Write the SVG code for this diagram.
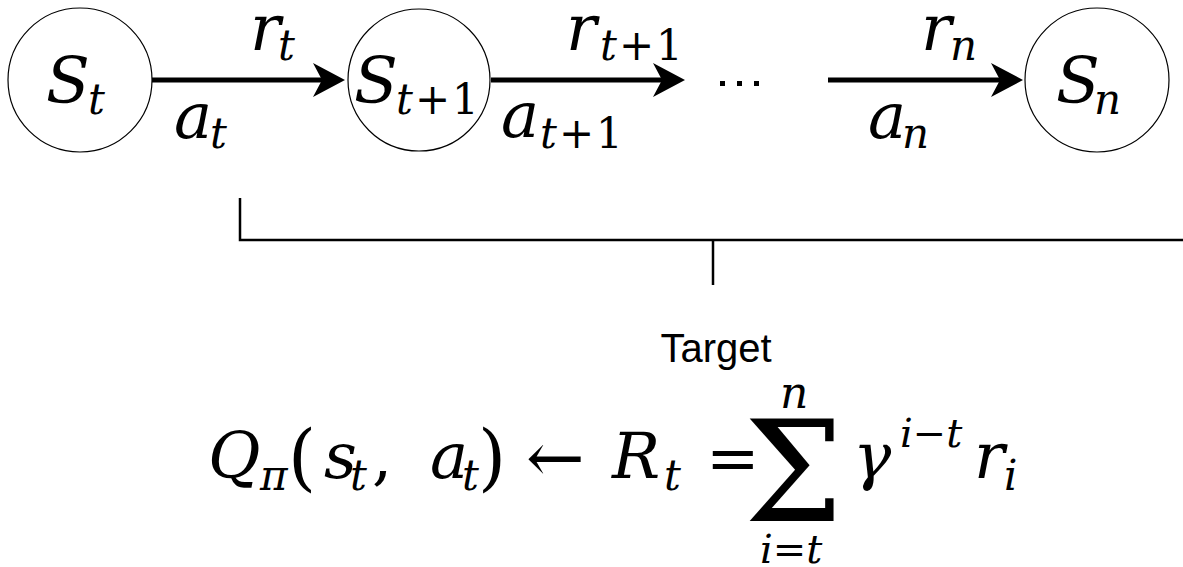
<svg xmlns="http://www.w3.org/2000/svg" width="1183" height="567" viewBox="0 0 1183 567">
<style>
.node{fill:#fff;stroke:#000;stroke-width:1.2}
.m{font-style:italic;fill:#000}
.u{font-style:normal;fill:#000}
.big{font-size:64px}
.sub{font-size:42px}
.edge{stroke:#000;stroke-width:5;fill:none}
.br{stroke:#000;stroke-width:2.5;fill:none}
</style>
<defs>
<marker id="ah" markerUnits="userSpaceOnUse" markerWidth="34" markerHeight="36" refX="12" refY="17" orient="auto">
<path d="M0,0 L32,17 L0,34 L9,17 Z" fill="#000"/>
</marker>
</defs>
<rect width="1183" height="567" fill="#fff"/>
<g id="connectors">
<line class="edge" x1="152" y1="80" x2="325" y2="80" marker-end="url(#ah)"/>
<line class="edge" x1="491" y1="80" x2="665" y2="80" marker-end="url(#ah)"/>
<line class="edge" x1="828" y1="80" x2="1003" y2="80" marker-end="url(#ah)"/>
<polyline class="br" points="240,198 240,240 1183,240"/>
<line class="br" x1="713" y1="240" x2="713" y2="285"/>
</g>
<g font-family="DejaVu Serif, serif">
<g id="node-st">
<circle class="node" cx="80" cy="80" r="72"/>
<text class="m big" x="46" y="103">S</text><text class="m sub" x="88" y="114">t</text>
</g>
<g id="node-st1">
<circle class="node" cx="419" cy="80" r="71"/>
<text class="m big" x="354" y="103">S</text><text class="m sub" x="396" y="114">t<tspan class="u" dx="2">+</tspan><tspan class="u" dx="2">1</tspan></text>
</g>
<g id="node-dots">
<rect x="720" y="81" width="5" height="5" fill="#000"/>
<rect x="737" y="81" width="5" height="5" fill="#000"/>
<rect x="754" y="81" width="5" height="5" fill="#000"/>
</g>
<g id="node-sn">
<circle class="node" cx="1097" cy="80" r="72"/>
<text class="m big" x="1056" y="103">S</text><text class="m sub" x="1094" y="114">n</text>
</g>
<g id="labels">
<text class="m big" x="250" y="50">r</text><text class="m sub" x="278" y="60">t</text>
<text class="m big" x="174" y="138">a</text><text class="m sub" x="210" y="148">t</text>
<text class="m big" x="566" y="50">r</text><text class="m sub" x="600" y="60">t<tspan class="u" dx="2">+</tspan><tspan class="u" dx="2">1</tspan></text>
<text class="m big" x="501" y="137">a</text><text class="m sub" x="540" y="148">t<tspan class="u" dx="2">+</tspan><tspan class="u" dx="2">1</tspan></text>
<text class="m big" x="921" y="50">r</text><text class="m sub" x="950" y="60">n</text>
<text class="m big" x="868" y="138">a</text><text class="m sub" x="902" y="148">n</text>
</g>
<g id="formula">
<text class="m" font-size="64" x="208" y="478">Q</text>
<text class="m sub" x="260" y="490">π</text>
<text class="u" font-size="72" x="288" y="482">(</text>
<text class="m" font-size="64" x="324" y="478">s</text>
<text class="m sub" x="350" y="490">t</text>
<text class="u" font-size="64" x="372" y="478">,</text>
<text class="m" font-size="64" x="430" y="478">a</text>
<text class="m sub" x="462" y="490">t</text>
<text class="u" font-size="72" x="478" y="482">)</text>
<text class="u" font-size="70" x="526" y="482">←</text>
<text class="m" font-size="64" x="612" y="478">R</text>
<text class="m sub" x="664" y="490">t</text>
<text class="u" font-size="64" x="706" y="480">=</text>
<text class="u" font-size="140" x="744" y="521">Σ</text>
<text class="m" font-size="44" x="780" y="408">n</text>
<text class="m" font-size="40" x="760" y="563">i<tspan class="u">=</tspan>t</text>
<text class="m" font-size="64" x="853" y="478">γ</text>
<text class="m" font-size="40" x="900" y="447">i<tspan class="u">−</tspan>t</text>
<text class="m" font-size="64" x="974" y="478">r</text>
<text class="m sub" x="1004" y="490">i</text>
</g>
</g>
<g id="target">
<text x="716" y="362" text-anchor="middle" font-family="Liberation Sans, Arial, sans-serif" font-size="40" fill="#000">Target</text>
</g>
</svg>
